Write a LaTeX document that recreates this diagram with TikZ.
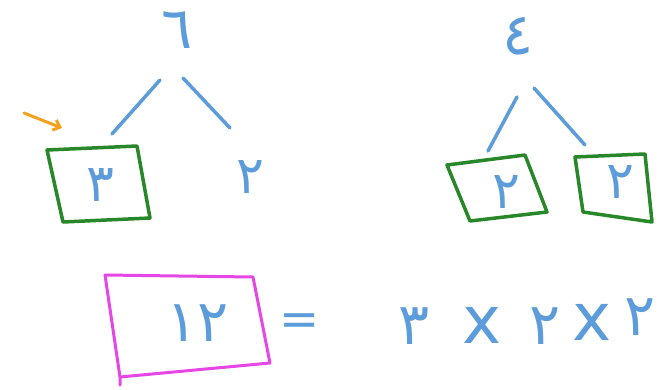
\documentclass[tikz,border=0pt]{standalone}
\usepackage{fontspec}
\newfontfamily\arabicfont[Script=Arabic]{DejaVu Sans}
\usetikzlibrary{calc,arrows.meta}
\definecolor{penblue}{RGB}{92,156,218}
\definecolor{pengreen}{RGB}{40,135,40}
\definecolor{penpink}{RGB}{230,70,230}
\definecolor{penorange}{RGB}{245,160,30}
\tikzset{
  digit/.style={text=penblue,font=\arabicfont\fontsize{52}{56}\selectfont,inner sep=0pt},
  bigdigit/.style={digit,font=\arabicfont\fontsize{58}{62}\selectfont},
  times/.style={digit,font=\arabicfont\fontsize{66}{70}\selectfont},
  equals/.style={digit,font=\arabicfont\fontsize{48}{52}\selectfont},
  branch/.style={draw=penblue,line width=3.5pt,line cap=round},
  greenbox/.style={draw=pengreen,line width=3.5pt,line join=round,line cap=round},
  pinkbox/.style={draw=penpink,line width=3pt,line join=round,line cap=round},
}
\begin{document}
\begin{tikzpicture}[x=1pt,y=-1pt]
\useasboundingbox (0,0) rectangle (667,389);
% left tree
\node[bigdigit] (six) at (177,30) {٦};
\node[digit] (t3) at (100,185) {٣};
\node[digit] (t2a) at (250,177) {٢};
\coordinate (la1) at (160,80); \coordinate (la2) at (112,134);
\coordinate (lb1) at (183,78); \coordinate (lb2) at (230,128);
\draw[branch] (la1) -- (la2);
\draw[branch] (lb1) -- (lb2);
\draw[greenbox] ($(t3)+(-53,-35)$) -- ($(t3)+(37,-39)$) -- ($(t3)+(50,33)$) -- ($(t3)+(-37,37)$) -- cycle;
% orange arrow
\coordinate (oa1) at (24,113); \coordinate (oa2) at (62,128);
\draw[draw=penorange,line width=3pt,line cap=round,-{Straight Barb[length=6pt,width=11pt]}] (oa1) -- (oa2);
% right tree
\node[bigdigit] (four) at (518,36) {٤};
\node[digit] (t2b) at (506,192) {٢};
\node[digit] (t2c) at (620,182) {٢};
\coordinate (ra1) at (517,97); \coordinate (ra2) at (488,151);
\coordinate (rb1) at (534,88); \coordinate (rb2) at (585,145);
\draw[branch] (ra1) -- (ra2);
\draw[branch] (rb1) -- (rb2);
\draw[greenbox] ($(t2b)+(-59,-27)$) -- ($(t2b)+(19,-37)$) -- ($(t2b)+(41,20)$) -- ($(t2b)+(-36,29)$) -- cycle;
\draw[greenbox] ($(t2c)+(-45,-25)$) -- ($(t2c)+(25,-28)$) -- ($(t2c)+(32,40)$) -- ($(t2c)+(-37,30)$) -- cycle;
% bottom equation
\node[bigdigit] (twelve) at (198,323) {١٢};
\draw[pinkbox] ($(twelve)+(-93,-48)$) -- ($(twelve)+(55,-46)$) -- ($(twelve)+(72,40)$) -- ($(twelve)+(-78,54)$) -- ($(twelve)+(-78,62)$);
\draw[pinkbox] ($(twelve)+(-93,-48)$) -- ($(twelve)+(-78,54)$);
\node[equals] (eq) at (300,325) {=};
\node[bigdigit] (p3) at (414,326) {٣};
\node[times] (x1) at (482,325) {x};
\node[bigdigit] (p2a) at (545,326) {٢};
\node[times] (x2) at (592,322) {x};
\node[bigdigit] (p2b) at (640,317) {٢};
\end{tikzpicture}
\end{document}
